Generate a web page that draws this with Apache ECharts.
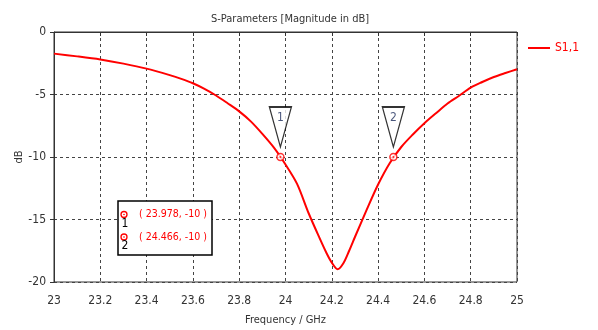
<!DOCTYPE html>
<html><head><meta charset="utf-8">
<script src="https://cdn.jsdelivr.net/npm/echarts@6/dist/echarts.min.js"></script>
<style>html,body{margin:0;padding:0;background:#fff}#c{width:598px;height:330px}</style>
</head><body><div id="c"></div>
<script>
var freqs = [23.0,23.1,23.2,23.3,23.4,23.5,23.55,23.6,23.65,23.7,23.75,23.8,23.85,23.9,23.95,24.0,24.05,24.1,24.15,24.175,24.2,24.225,24.25,24.275,24.3,24.35,24.4,24.45,24.5,24.55,24.6,24.65,24.7,24.75,24.8,24.85,24.9,24.95,25.0];
var s11 = [-1.73,-1.95,-2.2,-2.53,-2.93,-3.45,-3.75,-4.1,-4.55,-5.08,-5.7,-6.35,-7.15,-8.15,-9.25,-10.6,-12.15,-14.5,-16.6,-17.6,-18.45,-18.98,-18.5,-17.5,-16.4,-14.25,-12.2,-10.5,-9.2,-8.2,-7.3,-6.5,-5.72,-5.1,-4.45,-4.0,-3.6,-3.28,-2.98];
var markerIds = ['1','2'];
var markerFreqs = [23.978, 24.466];
var markerVals = [-10, -10];

var FONT = '"DejaVu Sans Condensed", sans-serif';
var chart = echarts.init(document.getElementById('c'));
var lineData = freqs.map(function(f,i){return [f,s11[i]];});
var mk = markerFreqs.map(function(f,i){return {value:[f,markerVals[i]], name:markerIds[i]};});

var gx = 118, gy = 201;
var graphics = [{type:'rect', shape:{x:gx, y:gy, width:94, height:54}, style:{fill:'#fff', stroke:'#000', lineWidth:1.5}, z:100}];
markerIds.forEach(function(id,i){
  var cy = gy + 13.5 + i*22.5;
  graphics.push({type:'circle', shape:{cx:gx+6, cy:cy, r:3}, style:{fill:'#fff', stroke:'#ff0000', lineWidth:1.3}, z:101});
  graphics.push({type:'circle', shape:{cx:gx+6, cy:cy, r:0.8}, style:{fill:'#ff0000'}, z:101});
  graphics.push({type:'text', x:gx+7, y:cy+9, style:{text:id, fill:'#000', font:'12px '+FONT, align:'center', verticalAlign:'middle'}, z:101});
  graphics.push({type:'text', x:gx+21, y:cy, style:{text:'( '+markerFreqs[i]+', '+markerVals[i]+' )', fill:'#ff0000', font:'10.5px '+FONT, verticalAlign:'middle'}, z:101});
});

chart.setOption({
  animation:false,
  textStyle:{fontFamily:FONT},
  title:{text:'S-Parameters [Magnitude in dB]', left:285, textAlign:'center', top:9,
    textStyle:{fontSize:11, fontWeight:'normal', color:'#333', fontFamily:FONT}},
  legend:{data:['S1,1'], left:523, top:37, icon:'rect', itemWidth:22, itemHeight:2, itemGap:6,
    textStyle:{color:'#ff0000', fontSize:12, fontFamily:FONT}},
  grid:{left:54, right:81, top:32, bottom:48, show:true, borderColor:'#333', borderWidth:1, containLabel:false, outerBoundsMode:'none'},
  xAxis:{type:'value', min:23, max:25, interval:0.2, name:'Frequency / GHz', nameLocation:'middle', nameGap:33, nameMoveOverlap:false,
    nameTextStyle:{fontSize:11, color:'#333', fontFamily:FONT},
    axisLine:{lineStyle:{color:'#333'}}, axisTick:{show:true, length:4, lineStyle:{color:'#333'}},
    axisLabel:{fontSize:12, color:'#333', margin:13, fontFamily:FONT},
    splitLine:{show:true, lineStyle:{color:'#444', type:[3,3]}}},
  yAxis:{type:'value', min:-20, max:0, interval:5, name:'dB', nameLocation:'middle', nameGap:29, nameRotate:90, nameMoveOverlap:false,
    nameTextStyle:{fontSize:11, color:'#333', fontFamily:FONT},
    axisLine:{show:true, lineStyle:{color:'#333'}}, axisTick:{show:true, length:4, lineStyle:{color:'#333'}},
    axisLabel:{fontSize:12, color:'#333', margin:8, fontFamily:FONT},
    splitLine:{show:true, lineStyle:{color:'#444', type:[3,3]}}},
  series:[
    {name:'S1,1', type:'line', data:lineData, smooth:0.3, showSymbol:false, lineStyle:{color:'#ff0000', width:2}, itemStyle:{color:'#ff0000'}, z:3},
    {type:'scatter', data:mk, symbol:'path://M0,0 L22,0 L11,40 Z', symbolSize:[22,40], symbolOffset:[0,-30],
      itemStyle:{color:'#fff', borderColor:'#000', borderWidth:1.5}, z:4,
      label:{show:true, formatter:function(p){return p.name;}, position:'inside', offset:[0,-9], color:'#1a2a5a', fontSize:12, fontFamily:FONT}},
    {type:'scatter', data:mk, symbol:'circle', symbolSize:7, itemStyle:{color:'#fff', borderColor:'#ff0000', borderWidth:1.5}, z:5},
    {type:'scatter', data:mk, symbol:'circle', symbolSize:2, itemStyle:{color:'#ff0000'}, z:6}
  ],
  graphic:graphics
});
</script></body></html>
